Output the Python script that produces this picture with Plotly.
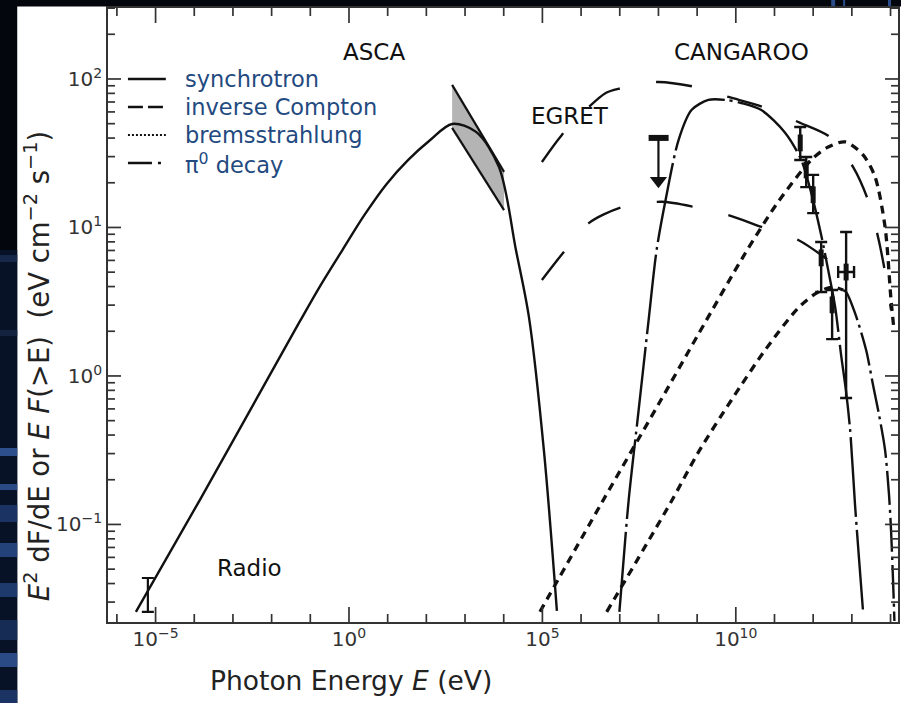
import math
import plotly.graph_objects as go

# ---------------- data ----------------
# synchrotron (solid)
sync_E = [3.10e-6, 1.39e-4, 0.0526, 0.173, 0.676, 2.49, 9.20, 34.0, 126, 463, 1928, 7550, 2.07e4, 4.49e4, 1.09e5, 2.37e5]
sync_F = [0.0258, 0.146, 2.31, 3.97, 7.05, 12.1, 19.5, 28.5, 38.8, 49.8, 44.0, 25.5, 7.05, 2.49, 0.318, 0.0262]

# pi0 decay (long dash - dot)
pi0_E = [9.79e6, 1.70e7, 3.08e7, 5.57e7, 8.97e7, 1.53e8, 3.31e8, 7.16e8, 1.96e9, 5.40e9,
         1.39e10, 4.57e10, 1.90e11, 4.92e11, 8.91e11, 1.61e12, 2.44e12, 3.70e12, 5.28e12,
         7.11e12, 9.02e12, 1.21e13, 1.54e13, 1.95e13]
pi0_F = [0.0258, 0.146, 0.590, 2.38, 7.05, 15.3, 38.8, 61.8, 72.3, 72.3,
         68.9, 61.8, 43.3, 28.5, 17.1, 8.89, 5.18, 2.92, 1.38,
         0.780, 0.433, 0.135, 0.0577, 0.0258]

# high-energy tail (long dash - dot)
tail_E = [5.94e12, 7.11e12, 1.21e13, 2.33e13, 3.53e13, 5.05e13, 7.21e13, 9.14e13, 1.03e14, 1.16e14, 1.26e14]
tail_F = [3.79, 3.68, 2.65, 1.50, 0.869, 0.546, 0.318, 0.158, 0.0918, 0.0423, 0.0224]

# inverse Compton, two models (short dashes)
ic1_E = [8.63e4, 3.42e6, 1.01e8, 1.09e9, 1.77e10, 1.25e11, 8.91e11, 2.44e12, 6.70e12, 1.95e13, 3.98e13, 7.21e13, 1.03e14, 1.23e14]
ic1_F = [0.0258, 0.140, 0.647, 1.92, 6.73, 14.9, 28.5, 34.8, 37.7, 30.8, 21.9, 10.1, 3.25, 2.04]
ic2_E = [4.60e6, 2.06e8, 1.09e9, 7.71e9, 5.79e10, 4.11e11, 1.35e12, 3.29e12, 5.94e12]
ic2_F = [0.0258, 0.140, 0.308, 0.689, 1.50, 2.87, 3.68, 3.97, 3.79]

# long-dashed curves, two models
ld1_E = [9.70e4, 3.18e5, 1.17e6, 4.34e6, 1.12e7, 3.08e7, 1.01e8, 9.08e8, 6.44e9, 5.15e10,
         4.11e11, 2.75e12, 1.08e13, 2.62e13, 4.75e13, 7.21e13, 1.03e14]
ld1_F = [27.6, 42.0, 60.0, 80.5, 86.9, 92.5, 95.5, 88.3, 75.7, 64.7,
         51.3, 40.6, 25.5, 15.3, 8.63, 5.01, 2.78]
ld2_E = [9.70e4, 3.58e5, 1.58e6, 1.12e7, 1.21e8, 9.08e8, 6.44e9, 4.57e10, 4.11e11, 2.44e12]
ld2_F = [4.43, 6.84, 10.7, 13.7, 14.9, 13.7, 12.1, 10.1, 8.24, 6.04]

# ASCA bow-tie (0.46 - 10 keV)
asca_E = [463, 1.02e4]
asca_hi = [91.2, 23.7]
asca_lo = [46.8, 13.1]

# radio point
radio_E = [6.32e-6]
radio_F = [0.0351]
radio_up = [0.0085]
radio_dn = [0.0093]

# EGRET upper limit
egret_E = [1.0e8]
egret_ul = [40.1]
egret_arrow = [20.6]
egret_bar_E = [5.57e7, 1.83e8]

# CANGAROO points
cang_E = [4.63e11, 6.61e11, 1.00e12, 1.61e12, 3.09e12, 7.11e12]
cang_F = [37.1, 24.4, 16.6, 6.24, 3.01, 5.01]
cang_hi = [47.5, 29.8, 22.6, 7.98, 3.79, 9.33]
cang_lo = [28.5, 18.7, 12.5, 3.68, 1.77, 0.711]
cang_Elo = [4.63e11, 6.61e11, 1.00e12, 1.61e12, 3.09e12, 4.43e12]
cang_Ehi = [4.63e11, 6.61e11, 1.00e12, 1.61e12, 3.09e12, 1.14e13]

# ticks: every decade on x (labels every 5), 1-9 on y (labels every decade)
x_major = [1e-5, 1, 1e5, 1e10]
x_major_text = ["10<sup>−5</sup>", "10<sup>0</sup>", "10<sup>5</sup>", "10<sup>10</sup>"]
x_minor = [1e-6, 1e-4, 1e-3, 1e-2, 1e-1, 10, 100, 1e3, 1e4, 1e6, 1e7, 1e8, 1e9,
           1e11, 1e12, 1e13, 1e14]
y_major = [0.1, 1, 10, 100]
y_major_text = ["10<sup>−1</sup>", "10<sup>0</sup>", "10<sup>1</sup>", "10<sup>2</sup>"]
y_minor = [0.03, 0.04, 0.05, 0.06, 0.07, 0.08, 0.09,
           0.2, 0.3, 0.4, 0.5, 0.6, 0.7, 0.8, 0.9,
           2, 3, 4, 5, 6, 7, 8, 9,
           20, 30, 40, 50, 60, 70, 80, 90, 200, 300]

legend_names = ["synchrotron", "inverse Compton", "bremsstrahlung", "π<sup>0</sup> decay"]

# ---------------- figure ----------------
W, H = 901, 703
ML, MR, MT, MB = 108, 1, 8, 81
PW, PH = W - ML - MR, H - MT - MB
X_RANGE = [-6.230, 14.193]
Y_RANGE = [-1.657, 2.478]


def px(x):
    return (x - ML) / PW


def py(y):
    return (H - MB - y) / PH


def xfrac(v):
    return (math.log10(v) - X_RANGE[0]) / (X_RANGE[1] - X_RANGE[0])


def yfrac(v):
    return (math.log10(v) - Y_RANGE[0]) / (Y_RANGE[1] - Y_RANGE[0])


BLACK = "#111111"
AX = "#333333"
fig = go.Figure()

# ASCA bow-tie
fig.add_trace(go.Scatter(x=asca_E + asca_E[::-1], y=asca_hi + asca_lo[::-1], fill="toself",
                         fillcolor="#b4b4b4", line=dict(width=0), mode="lines", hoverinfo="skip"))
fig.add_trace(go.Scatter(x=asca_E, y=asca_hi, mode="lines", line=dict(color=BLACK, width=2.2)))
fig.add_trace(go.Scatter(x=asca_E, y=asca_lo, mode="lines", line=dict(color=BLACK, width=2.2)))

# model curves
fig.add_trace(go.Scatter(x=sync_E, y=sync_F, mode="lines",
                         line=dict(color=BLACK, width=2.4, shape="spline", smoothing=0.9)))
fig.add_trace(go.Scatter(x=pi0_E, y=pi0_F, mode="lines",
                         line=dict(color=BLACK, width=2.4, shape="spline", smoothing=0.8,
                                   dash="80px,5px,3px,5px")))
fig.add_trace(go.Scatter(x=tail_E, y=tail_F, mode="lines",
                         line=dict(color=BLACK, width=2.4, shape="spline", smoothing=0.8,
                                   dash="34px,5px,3px,5px")))
for ex, fy in ((ic1_E, ic1_F), (ic2_E, ic2_F)):
    fig.add_trace(go.Scatter(x=ex, y=fy, mode="lines",
                             line=dict(color=BLACK, width=3.3, shape="spline", smoothing=0.8,
                                       dash="8px,6px")))
for ex, fy in ((ld1_E, ld1_F), (ld2_E, ld2_F)):
    fig.add_trace(go.Scatter(x=ex, y=fy, mode="lines",
                             line=dict(color=BLACK, width=2.4, shape="spline", smoothing=0.8,
                                       dash="36px,37px")))

# radio point
fig.add_trace(go.Scatter(x=radio_E, y=radio_F, mode="markers",
                         marker=dict(size=2, color=BLACK),
                         error_y=dict(type="data", array=radio_up, arrayminus=radio_dn,
                                      color=BLACK, thickness=2.2, width=6)))

# EGRET upper limit
fig.add_trace(go.Scatter(x=egret_bar_E, y=egret_ul * 2, mode="lines",
                         line=dict(color=BLACK, width=6)))
fig.add_trace(go.Scatter(x=egret_E * 2, y=egret_ul + egret_arrow, mode="lines",
                         line=dict(color=BLACK, width=2.2)))
fig.add_trace(go.Scatter(x=egret_E, y=egret_arrow, mode="markers",
                         marker=dict(symbol="triangle-down", size=15, color=BLACK)))

# CANGAROO points
fig.add_trace(go.Scatter(
    x=cang_E, y=cang_F, mode="markers",
    marker=dict(symbol="line-ns-open", size=12, color=BLACK, line=dict(color=BLACK, width=5)),
    error_y=dict(type="data", array=[h - f for h, f in zip(cang_hi, cang_F)],
                 arrayminus=[f - l for f, l in zip(cang_F, cang_lo)],
                 color=BLACK, thickness=2.4, width=6),
    error_x=dict(type="data", array=[h - e for h, e in zip(cang_Ehi, cang_E)],
                 arrayminus=[e - l for e, l in zip(cang_E, cang_Elo)],
                 color=BLACK, thickness=2.4, width=6)))

# ---------------- decoration: background ----------------
shapes = []
shapes.append(dict(type="rect", xref="paper", yref="paper", x0=px(17), x1=px(910),
                   y0=py(710), y1=py(6.5), fillcolor="white", line=dict(width=0), layer="below"))
shapes.append(dict(type="rect", xref="paper", yref="paper", x0=px(-5), x1=px(17),
                   y0=py(710), y1=py(250), fillcolor="#081226", line=dict(width=0), layer="below"))
for y0, y1, c in ((255, 262, "#16284a"), (330, 336, "#12223f"), (448, 456, "#2d4f8c"),
                  (484, 490, "#2a4a85"), (505, 522, "#1a3362"), (543, 557, "#24427a"),
                  (583, 597, "#1e3a6c"), (620, 640, "#162c55"), (653, 667, "#2a4a85"),
                  (690, 703, "#1a3362")):
    shapes.append(dict(type="rect", xref="paper", yref="paper", x0=px(-5), x1=px(17),
                       y0=py(y1), y1=py(y0), fillcolor=c, line=dict(width=0), layer="below"))
for x0, x1 in ((833, 837), (845, 847), (890, 893)):
    shapes.append(dict(type="rect", xref="paper", yref="paper", x0=px(x0), x1=px(x1),
                       y0=py(6), y1=py(0), fillcolor="#2b4c8a", line=dict(width=0), layer="below"))

# axis ticks (inside, on all four sides)
TW = 1.7
for vals, ln in ((x_major, 15), (x_minor, 8)):
    for v in vals:
        f = xfrac(v)
        for anchor, sgn in ((0, 1), (1, -1)):
            shapes.append(dict(type="line", xref="paper", yref="paper", ysizemode="pixel",
                               yanchor=anchor, x0=f, x1=f, y0=0, y1=sgn * ln,
                               line=dict(color=AX, width=TW)))
for vals, ln in ((y_major, 13), (y_minor, 7)):
    for v in vals:
        f = yfrac(v)
        for anchor, sgn in ((0, 1), (1, -1)):
            shapes.append(dict(type="line", xref="paper", yref="paper", xsizemode="pixel",
                               xanchor=anchor, y0=f, y1=f, x0=0, x1=sgn * ln,
                               line=dict(color=AX, width=TW)))

# legend samples
rows = [79, 107, 135, 163]
sample_dash = ["solid", "15px,5px", "2px,2px", "24px,6px,3px,20px"]
sample_w = [2.6, 2.6, 2.0, 2.6]
for r, d, w in zip(rows, sample_dash, sample_w):
    shapes.append(dict(type="line", xref="paper", yref="paper", x0=px(128), x1=px(166),
                       y0=py(r), y1=py(r), line=dict(color=BLACK, width=w, dash=d)))

annotations = []
for r, name in zip(rows, legend_names):
    annotations.append(dict(xref="paper", yref="paper", x=px(183), y=py(r), text=name,
                            xanchor="left", yanchor="middle", showarrow=False,
                            font=dict(family="DejaVu Sans", size=22.5, color="#234a80")))

for txt, cx, cy in (("ASCA", 375, 52), ("CANGAROO", 743, 52), ("EGRET", 571, 116), ("Radio", 250, 568)):
    annotations.append(dict(xref="paper", yref="paper", x=px(cx), y=py(cy), text=txt,
                            xanchor="center", yanchor="middle", showarrow=False,
                            font=dict(family="DejaVu Sans", size=23, color=BLACK)))

annotations.append(dict(xref="paper", yref="paper", x=px(352), y=py(680),
                        text="Photon Energy <i>E</i> (eV)", xanchor="center", yanchor="middle",
                        showarrow=False, font=dict(family="DejaVu Sans", size=26.5, color="#222222")))
annotations.append(dict(xref="paper", yref="paper", x=px(37), y=py(366), textangle=-90,
                        text="<i>E</i><sup>2</sup> dF/dE or <i>E F</i>(>E)  (eV cm<sup>−2</sup> s<sup>−1</sup>)",
                        xanchor="center", yanchor="middle", showarrow=False,
                        font=dict(family="DejaVu Sans", size=27.5, color="#222222")))

axis_common = dict(type="log", showgrid=False, zeroline=False, showline=True, linecolor=AX,
                   linewidth=1.8, mirror=True, ticks="", tickmode="array",
                   tickfont=dict(family="DejaVu Sans", size=20, color="#333333"))

fig.update_layout(
    width=W, height=H, margin=dict(l=ML, r=MR, t=MT, b=MB, pad=0),
    paper_bgcolor="#03060c", plot_bgcolor="white", showlegend=False,
    xaxis=dict(axis_common, range=X_RANGE, tickvals=x_major, ticktext=x_major_text,
               ticklabelstandoff=-2),
    yaxis=dict(axis_common, range=Y_RANGE, tickvals=y_major, ticktext=y_major_text,
               ticklabelstandoff=0),
    shapes=shapes, annotations=annotations,
)

fig.write_html("out.html")
